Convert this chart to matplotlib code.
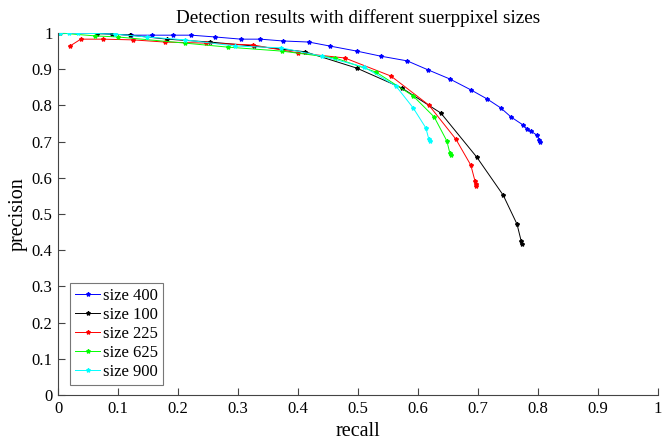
import matplotlib
matplotlib.use("Agg")
import matplotlib.pyplot as plt

plt.rcParams['font.family'] = ['Liberation Serif', 'DejaVu Serif']

labels = ["size 400", "size 100", "size 225", "size 625", "size 900"]
colors = ["#0000ff", "#000000", "#ff0000", "#00ff00", "#00ffff"]

recall_400 = [0.003, 0.065, 0.09, 0.122, 0.157, 0.192, 0.222, 0.262, 0.305, 0.337, 0.375, 0.418,
              0.453, 0.498, 0.538, 0.582, 0.617, 0.653, 0.688, 0.715, 0.738, 0.755, 0.775, 0.782,
              0.788, 0.798, 0.802, 0.803]
precision_400 = [1.0, 1.0, 0.997, 0.994, 0.994, 0.994, 0.994, 0.989, 0.983, 0.983, 0.978, 0.975,
                 0.964, 0.950, 0.936, 0.923, 0.898, 0.873, 0.843, 0.818, 0.793, 0.768, 0.746, 0.735,
                 0.729, 0.718, 0.704, 0.699]

recall_100 = [0.065, 0.09, 0.12, 0.182, 0.253, 0.327, 0.412, 0.498, 0.573, 0.638, 0.698, 0.742,
              0.765, 0.772, 0.773]
precision_100 = [0.998, 0.997, 0.994, 0.983, 0.975, 0.964, 0.948, 0.903, 0.848, 0.779, 0.657, 0.552,
                 0.472, 0.425, 0.417]

recall_225 = [0.02, 0.038, 0.075, 0.125, 0.178, 0.247, 0.325, 0.40, 0.478, 0.555, 0.618, 0.663,
              0.688, 0.695, 0.697, 0.697]
precision_225 = [0.964, 0.983, 0.983, 0.981, 0.975, 0.972, 0.967, 0.945, 0.931, 0.881, 0.801, 0.707,
                 0.635, 0.591, 0.583, 0.577]

recall_625 = [0.003, 0.062, 0.10, 0.212, 0.283, 0.373, 0.462, 0.53, 0.592, 0.627, 0.648, 0.653, 0.655]
precision_625 = [1.0, 0.992, 0.989, 0.972, 0.961, 0.950, 0.931, 0.892, 0.826, 0.768, 0.702, 0.669, 0.663]

recall_900 = [0.003, 0.018, 0.033, 0.095, 0.148, 0.212, 0.295, 0.372, 0.44, 0.51, 0.563, 0.592,
              0.613, 0.618, 0.62]
precision_900 = [1.0, 1.0, 1.0, 0.997, 0.989, 0.981, 0.964, 0.959, 0.936, 0.906, 0.854, 0.793,
                 0.738, 0.707, 0.702]

series = [(recall_400, precision_400), (recall_100, precision_100), (recall_225, precision_225),
          (recall_625, precision_625), (recall_900, precision_900)]

xticks = [0, 0.1, 0.2, 0.3, 0.4, 0.5, 0.6, 0.7, 0.8, 0.9, 1]
xticklabels = ["0", "0.1", "0.2", "0.3", "0.4", "0.5", "0.6", "0.7", "0.8", "0.9", "1"]
yticks = xticks
yticklabels = xticklabels

fig = plt.figure(figsize=(6.62, 4.44), dpi=100)
ax = fig.add_axes([58/662, 1-395/444, 600/662, 362/444])

for (r, p), c, lab in zip(series, colors, labels):
    ax.plot(r, p, color=c, lw=0.7, marker='*', markersize=3, label=lab)

ax.set_xlim(0, 1)
ax.set_ylim(0, 1)
ax.set_xticks(xticks)
ax.set_xticklabels(xticklabels)
ax.set_yticks(yticks)
ax.set_yticklabels(yticklabels)
ax.spines['top'].set_visible(False)
ax.spines['right'].set_visible(False)
for s in ['left', 'bottom']:
    ax.spines[s].set_color('#444444')
    ax.spines[s].set_linewidth(0.8)
ax.tick_params(direction='in', length=5, width=0.8, color='#444444', labelsize=12, pad=4)

ax.set_xlabel("recall", fontsize=14.5, labelpad=4)
ax.set_ylabel("precision", fontsize=14.5, labelpad=3)
ax.set_title("Detection results with different suerppixel sizes", fontsize=13.8, pad=7)

leg = ax.legend(loc='lower left', bbox_to_anchor=(0.02, 0.027), fontsize=12,
                frameon=True, fancybox=False, edgecolor='#555555', handlelength=1.5,
                handletextpad=0.2, borderpad=0.3, labelspacing=0.18, borderaxespad=0)
leg.get_frame().set_linewidth(0.8)

fig.savefig("out.png", dpi=100)
